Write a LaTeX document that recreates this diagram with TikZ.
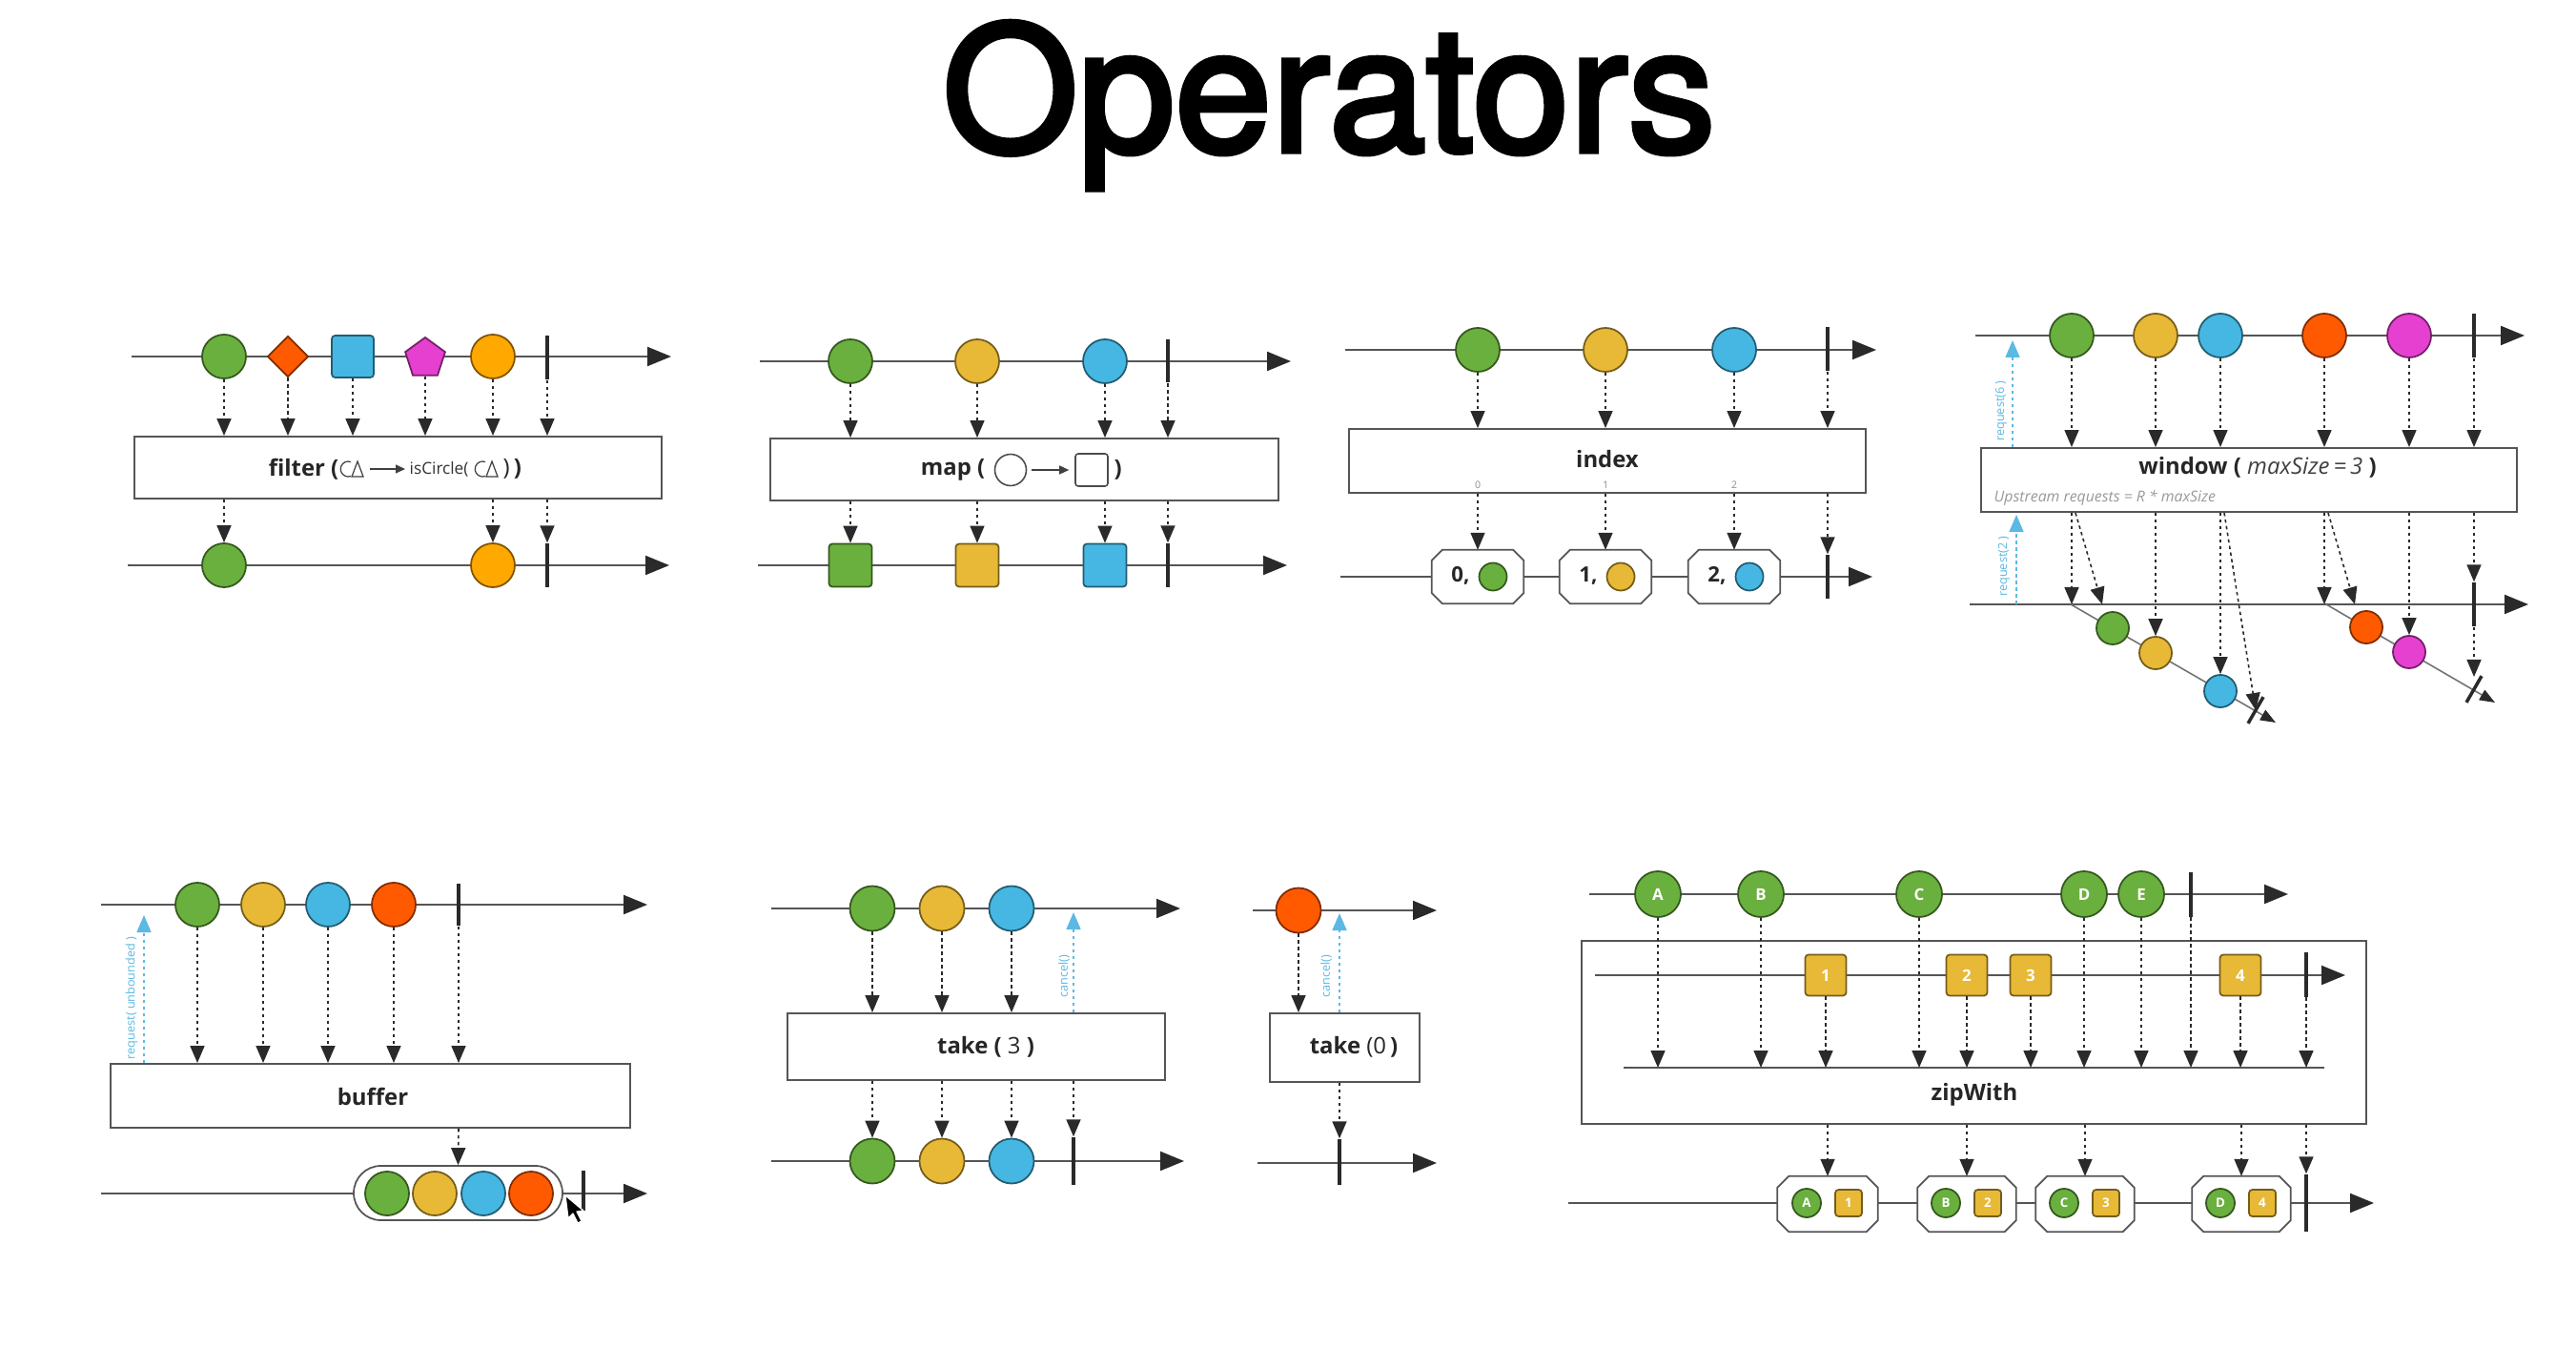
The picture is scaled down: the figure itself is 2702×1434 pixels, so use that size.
\documentclass[tikz,border=0pt]{standalone}
\usepackage{fontspec}
\setmainfont{Open Sans}
\newfontfamily\titlefont[FakeBold=3]{TeX Gyre Heros}
\usetikzlibrary{arrows.meta,shapes.geometric,calc}
\definecolor{cgreen}{HTML}{6AB03E}
\definecolor{cyellow}{HTML}{E8B936}
\definecolor{cblue}{HTML}{45B7E2}
\definecolor{cred}{HTML}{FF5A00}
\definecolor{camber}{HTML}{FFA800}
\definecolor{cpink}{HTML}{E640D0}
\definecolor{axisc}{HTML}{555555}
\definecolor{reqc}{HTML}{5BB9E3}
\definecolor{barc}{HTML}{2A2A2A}
\tikzset{
 tline/.style={draw=axisc, line width=0.6pt, -{Triangle[length=2.5mm,width=2mm,color=barc]}},
 pline/.style={draw=axisc, line width=0.6pt},
 ball/.style={circle, draw=#1!50!black, fill=#1, line width=0.5pt, minimum size=4.6mm, inner sep=0pt},
 sq/.style={rectangle, rounded corners=0.35mm, draw=#1!50!black, fill=#1, line width=0.5pt, minimum size=4.4mm, inner sep=0pt},
 endbar/.style={rectangle, fill=barc, inner sep=0pt, minimum width=0.45mm, minimum height=#1},
 opbox/.style={rectangle, draw=axisc, line width=0.55pt, fill=white, inner sep=0pt},
 dar/.style={draw=barc, line width=0.45pt, dash pattern=on 0.35mm off 0.35mm, -{Triangle[length=1.8mm,width=1.5mm]}},
 rar/.style={draw=reqc, line width=0.45pt, dash pattern=on 0.35mm off 0.35mm, -{Triangle[length=1.8mm,width=1.5mm]}},
 oplbl/.style={font=\fontsize{6.8}{8}\selectfont\bfseries, text=black!85, inner sep=0pt},
 reqlbl/.style={font=\fontsize{3.6}{4}\selectfont, text=reqc, inner sep=0pt, rotate=90},
 lett/.style={text=white, font=\fontsize{4.8}{5}\selectfont\bfseries},
 smlett/.style={text=white, font=\fontsize{3.8}{4}\selectfont\bfseries},
 wline/.style={draw=black!55, line width=0.45pt, -{Triangle[length=1.6mm,width=1.2mm,color=barc]}},
 icon/.style={draw=black!75, line width=0.35pt},
 minarrow/.style={draw=black!75, line width=0.4pt, -{Triangle[length=1mm,width=0.9mm]}},
}
\newcommand\octframe[2]{%
 \draw[draw=axisc, line width=0.5pt, fill=white] ([xshift=#2]#1.north west) -- ([xshift=-#2]#1.north east) -- ([yshift=-#2]#1.north east) -- ([yshift=#2]#1.south east) -- ([xshift=-#2]#1.south east) -- ([xshift=#2]#1.south west) -- ([yshift=#2]#1.south west) -- ([yshift=-#2]#1.north west) -- cycle;}
\newcommand\shapeicon[1]{%
 \draw[icon] (#1) ++(-0.2mm,0.75mm) arc[start angle=70,end angle=290,radius=0.8mm];
 \draw[icon] ([xshift=-0.1mm,yshift=-0.8mm]#1) -- ([xshift=0.5mm,yshift=0.8mm]#1) -- ([xshift=1.1mm,yshift=-0.8mm]#1) -- cycle;}
\begin{document}
\begin{tikzpicture}[x=0.1mm,y=-0.1mm]
\fill[white] (0,0) rectangle (2702,1434);
\useasboundingbox (0,0) rectangle (2702,1434);
\node[font=\titlefont\fontsize{52}{60}\selectfont, anchor=base, inner sep=0pt] (title) at (1394,159) {Operators};

% ================= filter
\coordinate (fa0) at (138,374); \coordinate (fa1) at (704,374);
\draw[tline] (fa0) -- (fa1);
\node[ball=cgreen] (f1) at (235,374) {};
\node[diamond, draw=cred!50!black, fill=cred, line width=0.5pt, minimum width=4.3mm, minimum height=4.3mm, inner sep=0pt] (f2) at (302,374) {};
\node[sq=cblue] (f3) at (370,374) {};
\node[regular polygon, regular polygon sides=5, draw=cpink!50!black, fill=cpink, line width=0.5pt, minimum size=4.4mm, inner sep=0pt] (f4) at (446,376) {};
\node[ball=camber] (f5) at (517,374) {};
\node[endbar=4.6mm] (f6) at (574,375) {};
\node[opbox, minimum width=55.3mm, minimum height=6.5mm] (fbox) at (417.5,490.5) {};
\foreach \n in {f1,f2,f3,f4,f5,f6} \draw[dar] (\n.south) -- (\n |- fbox.north);
\node[oplbl, anchor=east] (fl1) at (356,492) {filter (};
\coordinate (fi1) at (370,492);
\shapeicon{fi1}
\coordinate (fr0) at (388,492); \coordinate (fr1) at (425,492);
\draw[minarrow] (fr0) -- (fr1);
\node[inner sep=0pt, anchor=west, font=\fontsize{4.9}{6}\selectfont, text=black!80] (fl2) at (429,492) {isCircle(};
\coordinate (fi2) at (511,492);
\shapeicon{fi2}
\node[oplbl, anchor=west] (fl3) at (527,492) {{\mdseries )}\,)};
\coordinate (fb0) at (134,593); \coordinate (fb1) at (702,593);
\draw[tline] (fb0) -- (fb1);
\node[ball=cgreen] (g1) at (235,593) {};
\node[ball=camber] (g5) at (517,593) {};
\node[endbar=4.6mm] (g6) at (574,593) {};
\foreach \n in {g1,g5,g6} \draw[dar] (\n |- fbox.south) -- (\n.north);

% ================= map
\coordinate (ma0) at (797,379); \coordinate (ma1) at (1354,379);
\draw[tline] (ma0) -- (ma1);
\node[ball=cgreen] (m1) at (892,379) {};
\node[ball=cyellow] (m2) at (1025,379) {};
\node[ball=cblue] (m3) at (1159,379) {};
\node[endbar=4.5mm] (m4) at (1225,379) {};
\node[opbox, minimum width=53.3mm, minimum height=6.5mm] (mbox) at (1074.5,492.5) {};
\foreach \n in {m1,m2,m3,m4} \draw[dar] (\n.south) -- (\n |- mbox.north);
\node[oplbl, anchor=east] (ml1) at (1034,493) {map (};
\node[circle, draw=black!70, line width=0.45pt, minimum size=3.3mm, inner sep=0pt] (ml2) at (1060,493) {};
\node[rectangle, rounded corners=0.3mm, draw=black!70, line width=0.45pt, minimum size=3.4mm, inner sep=0pt] (ml3) at (1145,493) {};
\draw[minarrow] ([xshift=0.5mm]ml2.east) -- ([xshift=-0.6mm]ml3.west);
\node[oplbl, anchor=west] (ml4) at (1168,493) {)};
\coordinate (mb0) at (795,593); \coordinate (mb1) at (1350,593);
\draw[tline] (mb0) -- (mb1);
\node[sq=cgreen, minimum size=4.5mm] (n1) at (892,593) {};
\node[sq=cyellow, minimum size=4.5mm] (n2) at (1025,593) {};
\node[sq=cblue, minimum size=4.5mm] (n3) at (1159,593) {};
\node[endbar=4.6mm] (n4) at (1225,593) {};
\foreach \n in {n1,n2,n3,n4} \draw[dar] (\n |- mbox.south) -- (\n.north);

% ================= index
\coordinate (ia0) at (1411,367); \coordinate (ia1) at (1968,367);
\draw[tline] (ia0) -- (ia1);
\node[ball=cgreen] (i1) at (1550,367) {};
\node[ball=cyellow] (i2) at (1684,367) {};
\node[ball=cblue] (i3) at (1819,367) {};
\node[endbar=4.6mm] (i4) at (1917,366) {};
\node[opbox, minimum width=54.2mm, minimum height=6.7mm] (ibox) at (1686,483.5) {};
\foreach \n in {i1,i2,i3,i4} \draw[dar] (\n.south) -- (\n |- ibox.north);
\node[oplbl] (il1) at (1686,482) {index};
\node[font=\fontsize{3}{3}\selectfont, text=black!45, inner sep=0pt] (in0) at (1550,509) {0};
\node[font=\fontsize{3}{3}\selectfont, text=black!45, inner sep=0pt] (in1) at (1684,509) {1};
\node[font=\fontsize{3}{3}\selectfont, text=black!45, inner sep=0pt] (in2) at (1819,509) {2};
\coordinate (ib0) at (1406,605); \coordinate (ib1) at (1964,605);
\draw[tline] (ib0) -- (ib1);
\node[minimum width=9.5mm, minimum height=5.5mm, inner sep=0pt] (j1) at (1550,605) {};
\node[minimum width=9.5mm, minimum height=5.5mm, inner sep=0pt] (j2) at (1684,605) {};
\node[minimum width=9.5mm, minimum height=5.5mm, inner sep=0pt] (j3) at (1819,605) {};
\octframe{j1}{1.1mm}
\octframe{j2}{1.1mm}
\octframe{j3}{1.1mm}
\node[oplbl, font=\fontsize{6.3}{7}\selectfont\bfseries] (j1t) at (1532,604) {0,};
\node[oplbl, font=\fontsize{6.3}{7}\selectfont\bfseries] (j2t) at (1666,604) {1,};
\node[oplbl, font=\fontsize{6.3}{7}\selectfont\bfseries] (j3t) at (1801,604) {2,};
\node[ball=cgreen, minimum size=2.9mm] (j1c) at (1566,605) {};
\node[ball=cyellow, minimum size=2.9mm] (j2c) at (1700,605) {};
\node[ball=cblue, minimum size=2.9mm] (j3c) at (1835,605) {};
\node[endbar=4.6mm] (j4) at (1917,605) {};
\foreach \n in {j1,j2,j3,j4} \draw[dar] (\n |- ibox.south) -- (\n.north);

% ================= window
\coordinate (wt0) at (2072,352); \coordinate (wt1) at (2648,352);
\draw[tline] (wt0) -- (wt1);
\node[ball=cgreen] (w1) at (2173,352) {};
\node[ball=cyellow] (w2) at (2261,352) {};
\node[ball=cblue] (w3) at (2329,352) {};
\node[ball=cred] (w4) at (2438,352) {};
\node[ball=cpink] (w5) at (2527,352) {};
\node[endbar=4.6mm] (w6) at (2595,352) {};
\node[opbox, minimum width=56.2mm, minimum height=6.7mm] (wbox) at (2359,503.5) {};
\foreach \n in {w1,w2,w3,w4,w5,w6} \draw[dar] (\n.south) -- (\n |- wbox.north);
\node[oplbl] (wl1) at (2368,490) {window ( {\mdseries\itshape\color{black!75}maxSize\,=\,3} )};
\node[font=\fontsize{4.5}{5}\selectfont\itshape, text=black!40, anchor=west, inner sep=0pt] (wl2) at (2091,522) {Upstream requests = R * maxSize};
\coordinate (wq1) at (2111,357);
\draw[rar] (wq1 |- wbox.north) -- (wq1);
\node[reqlbl] (wq1l) at (2099,431) {request(6 )};
\coordinate (wb0) at (2066,634); \coordinate (wb1) at (2652,634);
\draw[tline] (wb0) -- (wb1);
\coordinate (wq2) at (2115,540);
\draw[rar] (wq2 |- wb0) -- (wq2);
\node[reqlbl] (wq2l) at (2102,594) {request(2 )};
\coordinate (ws0) at (2172,634); \coordinate (ws1) at (2387,758);
\coordinate (wr0) at (2440,634); \coordinate (wr1) at (2617,737);
\draw[wline] (ws0) -- (ws1);
\draw[wline] (wr0) -- (wr1);
\node[ball=cgreen, minimum size=3.4mm] (v1) at (2216,659) {};
\node[ball=cyellow, minimum size=3.4mm] (v2) at (2261,685) {};
\node[ball=cblue, minimum size=3.4mm] (v3) at (2329,725) {};
\node[ball=cred, minimum size=3.4mm] (v4) at (2482,658) {};
\node[ball=cpink, minimum size=3.4mm] (v5) at (2527,684) {};
\node[endbar=3.2mm, minimum width=0.35mm, rotate=-30] (v6) at (2366,745) {};
\node[endbar=3.2mm, minimum width=0.35mm, rotate=-30] (v7) at (2595,723) {};
\node[endbar=4.6mm] (x6) at (2595,634) {};
\draw[dar] (w1 |- wbox.south) -- (w1 |- wb0);
\coordinate (wd1s) at (2177,538); \coordinate (wd1e) at (2205,634);
\draw[dar] (wd1s) -- (wd1e);
\draw[dar] (w2 |- wbox.south) -- (v2.north);
\draw[dar] (w3 |- wbox.south) -- (v3.north);
\coordinate (wd2s) at (2333,538);
\draw[dar] (wd2s) -- (v6.center);
\draw[dar] (w4 |- wbox.south) -- (w4 |- wb0);
\coordinate (wd3s) at (2442,538); \coordinate (wd3e) at (2470,634);
\draw[dar] (wd3s) -- (wd3e);
\draw[dar] (w5 |- wbox.south) -- (v5.north);
\draw[dar] (w6 |- wbox.south) -- (x6.north);
\draw[dar] (x6.south) -- ([yshift=1.3mm]v7.center);

% ================= buffer
\coordinate (ba0) at (106,949); \coordinate (ba1) at (679,949);
\draw[tline] (ba0) -- (ba1);
\node[ball=cgreen] (b1) at (207,949) {};
\node[ball=cyellow] (b2) at (276,949) {};
\node[ball=cblue] (b3) at (344,949) {};
\node[ball=cred] (b4) at (413,949) {};
\node[endbar=4.4mm] (b5) at (481,949) {};
\node[opbox, minimum width=54.5mm, minimum height=6.7mm] (bbox) at (388.5,1149.5) {};
\foreach \n in {b1,b2,b3,b4,b5} \draw[dar] (\n.south) -- (\n |- bbox.north);
\node[oplbl] (bl1) at (391,1150) {buffer};
\coordinate (bq1) at (151,960);
\draw[rar] (bq1 |- bbox.north) -- (bq1);
\node[reqlbl] (bq1l) at (138,1047) {request( unbounded )};
\coordinate (bb0) at (106,1252); \coordinate (bb1) at (679,1252);
\draw[tline] (bb0) -- (bb1);
\node[rectangle, rounded corners=2.85mm, draw=axisc, fill=white, line width=0.5pt, minimum width=21.9mm, minimum height=5.7mm, inner sep=0pt] (c0) at (480.5,1251.5) {};
\node[ball=cgreen] (c1) at (406,1252) {};
\node[ball=cyellow] (c2) at (456,1252) {};
\node[ball=cblue] (c3) at (507,1252) {};
\node[ball=cred] (c4) at (557,1252) {};
\node[endbar=4.2mm] (c5) at (612,1249) {};
\draw[dar] (b5 |- bbox.south) -- (c0.north);
\coordinate (cur) at (593,1254);
\fill[black, draw=white, line width=0.35pt, line join=round] (cur) -- ++(0.3mm,-2.4mm) -- ++(0.5mm,0.5mm) -- ++(0.5mm,-1mm) -- ++(0.4mm,0.2mm) -- ++(-0.5mm,1mm) -- ++(0.7mm,0.1mm) -- cycle;

% ================= take(3)
\coordinate (ta0) at (809,953); \coordinate (ta1) at (1238,953);
\draw[tline] (ta0) -- (ta1);
\node[ball=cgreen, minimum size=4.7mm] (t1) at (915,953) {};
\node[ball=cyellow, minimum size=4.7mm] (t2) at (988,953) {};
\node[ball=cblue, minimum size=4.7mm] (t3) at (1061,953) {};
\node[opbox, minimum width=39.6mm, minimum height=7mm] (tbox) at (1024,1098) {};
\foreach \n in {t1,t2,t3} \draw[dar] (\n.south) -- (\n |- tbox.north);
\node[oplbl] (tl1) at (1034,1098) {take ( {\mdseries 3} )};
\coordinate (tq1) at (1126,957);
\draw[rar] (tq1 |- tbox.north) -- (tq1);
\node[reqlbl] (tq1l) at (1116,1024) {cancel()};
\coordinate (tb0) at (809,1218); \coordinate (tb1) at (1242,1218);
\draw[tline] (tb0) -- (tb1);
\node[ball=cgreen, minimum size=4.7mm] (u1) at (915,1218) {};
\node[ball=cyellow, minimum size=4.7mm] (u2) at (988,1218) {};
\node[ball=cblue, minimum size=4.7mm] (u3) at (1061,1218) {};
\node[endbar=5mm] (u4) at (1126,1218) {};
\foreach \n in {u1,u2,u3,u4} \draw[dar] (\n |- tbox.south) -- (\n.north);

% ================= take(0)
\coordinate (sa0) at (1314,955); \coordinate (sa1) at (1507,955);
\draw[tline] (sa0) -- (sa1);
\node[ball=cred, minimum size=4.7mm] (s1) at (1362,955) {};
\node[opbox, minimum width=15.7mm, minimum height=7.2mm] (sbox) at (1410.5,1099) {};
\draw[dar] (s1.south) -- (s1 |- sbox.north);
\node[oplbl] (sl1) at (1420,1098) {take {\mdseries(0\,}) };
\coordinate (sq1) at (1405,958);
\draw[rar] (sq1 |- sbox.north) -- (sq1);
\node[reqlbl] (sq1l) at (1391,1024) {cancel()};
\coordinate (sb0) at (1319,1220); \coordinate (sb1) at (1507,1220);
\draw[tline] (sb0) -- (sb1);
\node[endbar=4.8mm] (s2) at (1405,1219) {};
\draw[dar] (s2 |- sbox.south) -- (s2.north);

% ================= zipWith
\coordinate (za0) at (1667,938); \coordinate (za1) at (2400,938);
\draw[tline] (za0) -- (za1);
\node[opbox, minimum width=82.3mm, minimum height=19.2mm] (zbox) at (2070.5,1083) {};
\node[ball=cgreen, minimum size=4.8mm, lett] (z1) at (1739,938) {A};
\node[ball=cgreen, minimum size=4.8mm, lett] (z2) at (1847,938) {B};
\node[ball=cgreen, minimum size=4.8mm, lett] (z3) at (2013,938) {C};
\node[ball=cgreen, minimum size=4.8mm, lett] (z4) at (2186,938) {D};
\node[ball=cgreen, minimum size=4.8mm, lett] (z5) at (2246,938) {E};
\node[endbar=4.7mm] (z6) at (2298,938) {};
\coordinate (zi0) at (1673,1023); \coordinate (zi1) at (2460,1023);
\draw[tline] (zi0) -- (zi1);
\node[sq=cyellow, minimum size=4.3mm, lett] (q1) at (1915,1023) {1};
\node[sq=cyellow, minimum size=4.3mm, lett] (q2) at (2063,1023) {2};
\node[sq=cyellow, minimum size=4.3mm, lett] (q3) at (2130,1023) {3};
\node[sq=cyellow, minimum size=4.3mm, lett] (q4) at (2350,1023) {4};
\node[endbar=4.7mm] (q5) at (2419,1022) {};
\coordinate (zc0) at (1703,1120); \coordinate (zc1) at (2438,1120);
\draw[pline] (zc0) -- (zc1);
\foreach \n in {z1,z2,z3,z4,z5,z6,q1,q2,q3,q4,q5} \draw[dar] (\n.south) -- (\n |- zc0);
\node[oplbl] (zl1) at (2071,1148) {zipWith};
\coordinate (zb0) at (1645,1262); \coordinate (zb1) at (2490,1262);
\draw[tline] (zb0) -- (zb1);
\node[minimum width=10.4mm, minimum height=5.7mm, inner sep=0pt] (o1) at (1917,1263) {};
\node[minimum width=10.2mm, minimum height=5.7mm, inner sep=0pt] (o2) at (2063,1263) {};
\node[minimum width=10.2mm, minimum height=5.7mm, inner sep=0pt] (o3) at (2187,1263) {};
\node[minimum width=10.2mm, minimum height=5.7mm, inner sep=0pt] (o4) at (2351,1263) {};
\octframe{o1}{1.2mm}
\octframe{o2}{1.2mm}
\octframe{o3}{1.2mm}
\octframe{o4}{1.2mm}
\node[ball=cgreen, minimum size=3mm, smlett] (oc1) at (1895,1262) {A};
\node[ball=cgreen, minimum size=3mm, smlett] (oc2) at (2041,1262) {B};
\node[ball=cgreen, minimum size=3mm, smlett] (oc3) at (2165,1262) {C};
\node[ball=cgreen, minimum size=3mm, smlett] (oc4) at (2329,1262) {D};
\node[sq=cyellow, minimum size=2.8mm, smlett] (os1) at (1939,1262) {1};
\node[sq=cyellow, minimum size=2.8mm, smlett] (os2) at (2085,1262) {2};
\node[sq=cyellow, minimum size=2.8mm, smlett] (os3) at (2209,1262) {3};
\node[sq=cyellow, minimum size=2.8mm, smlett] (os4) at (2373,1262) {4};
\node[endbar=6mm] (o5) at (2419,1262) {};
\foreach \n in {o1,o2,o3,o4,o5} \draw[dar] (\n |- zbox.south) -- (\n.north);
\end{tikzpicture}
\end{document}
